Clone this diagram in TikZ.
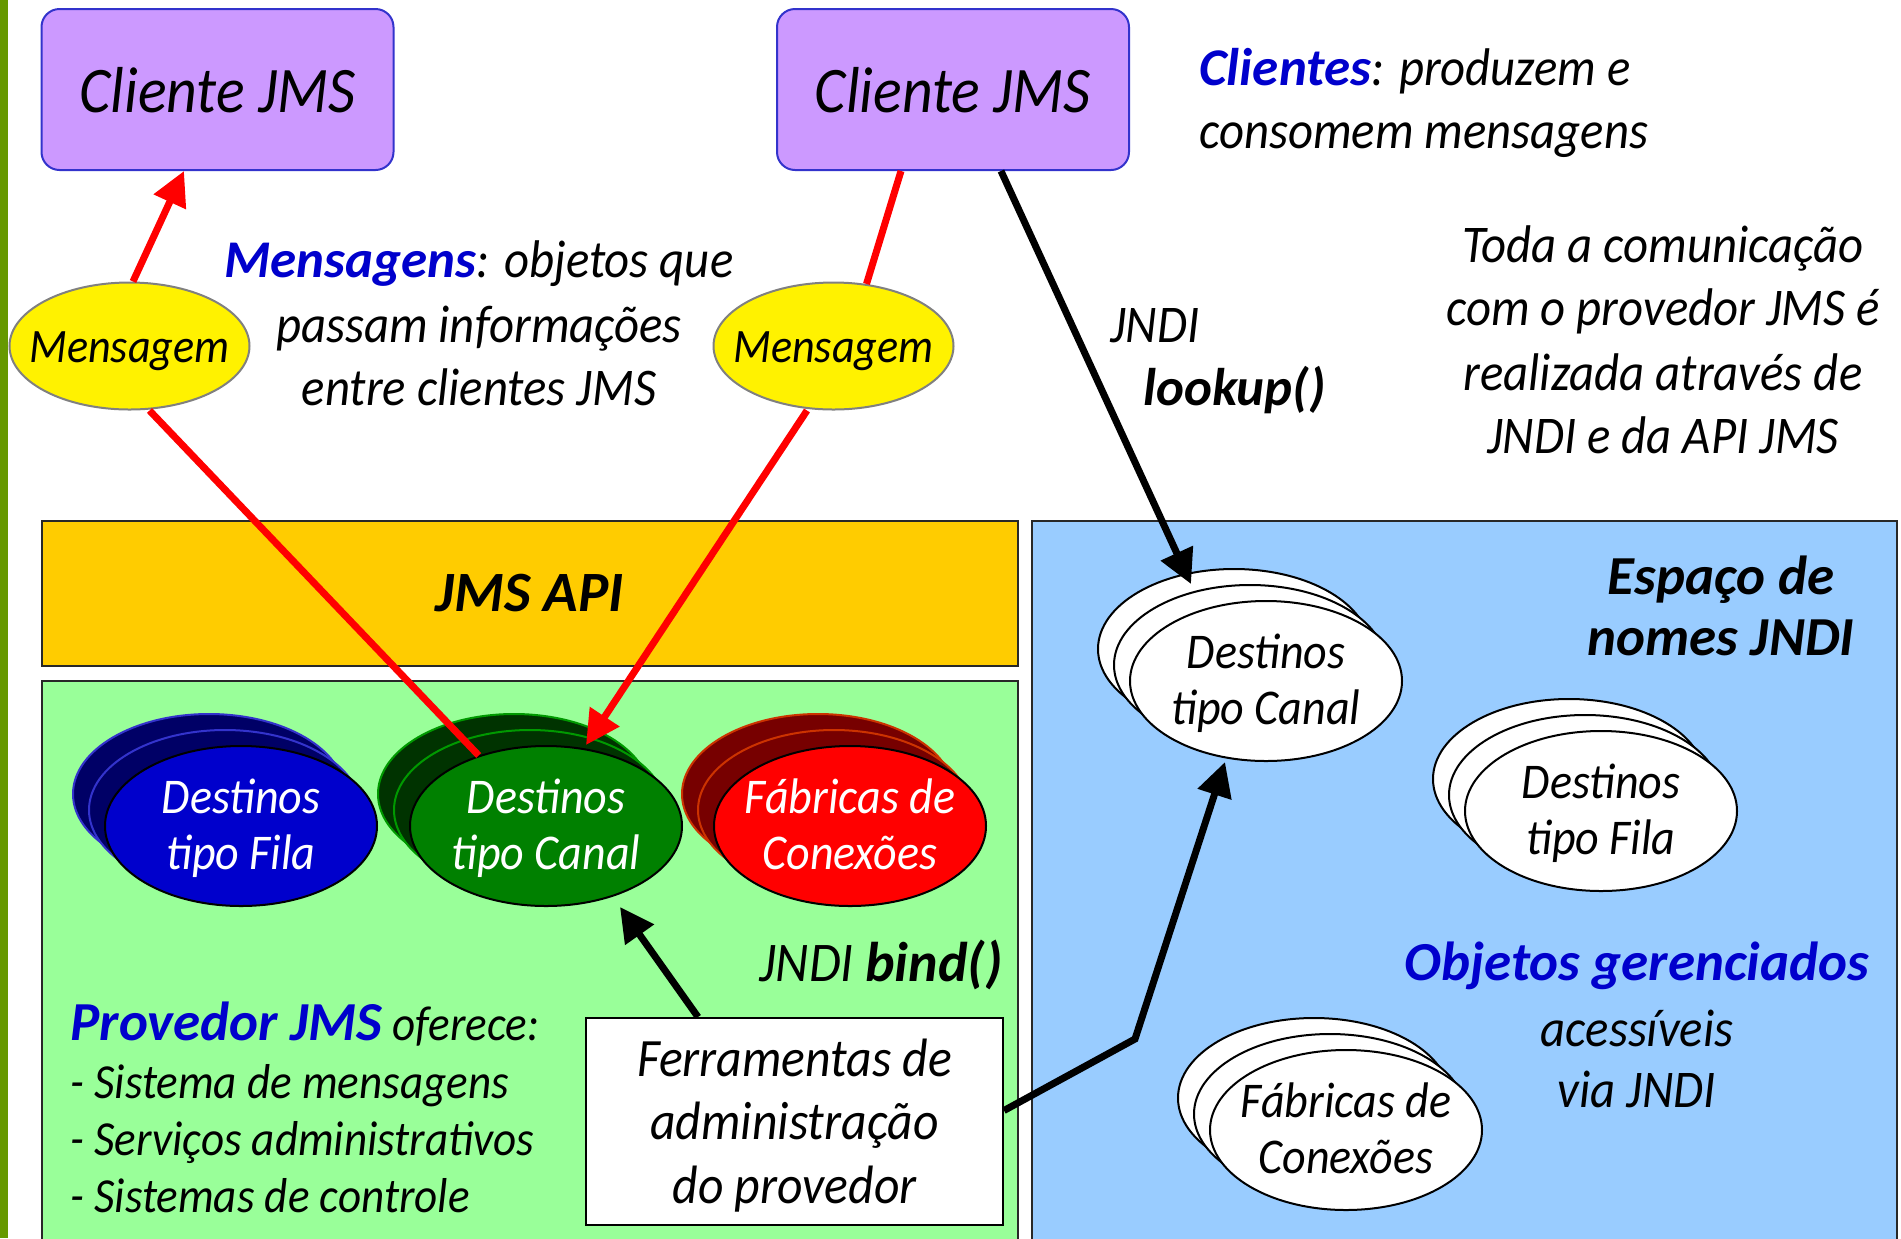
\documentclass[tikz,border=0pt]{standalone}
\usepackage{fontspec}
\setmainfont{Carlito}[ItalicFeatures={FakeStretch=0.92}]
\usetikzlibrary{shapes.geometric,arrows.meta,calc}
\definecolor{barc}{RGB}{102,153,0}
\definecolor{clientfill}{RGB}{204,153,255}
\definecolor{clientdraw}{RGB}{51,51,204}
\definecolor{apifill}{RGB}{255,204,0}
\definecolor{provfill}{RGB}{153,255,153}
\definecolor{jndifill}{RGB}{153,204,255}
\definecolor{areadraw}{RGB}{40,40,40}
\definecolor{txtblue}{RGB}{0,0,204}
\definecolor{msgdraw}{RGB}{128,128,128}
\definecolor{bfront}{RGB}{0,0,204}
\definecolor{bback}{RGB}{0,0,102}
\definecolor{bbackdraw}{RGB}{51,51,204}
\definecolor{gfront}{RGB}{0,128,0}
\definecolor{gback}{RGB}{0,51,0}
\definecolor{gbackdraw}{RGB}{0,153,0}
\definecolor{rfront}{RGB}{255,0,0}
\definecolor{rback}{RGB}{119,0,0}
\definecolor{rbackdraw}{RGB}{204,51,0}
\newcommand\zw[1]{\makebox[0pt]{#1}}
\newcommand\topstrut{\rule{0pt}{20pt}}
\newcommand\botstrut{\rule[-5pt]{0pt}{5pt}}
\newcommand\ellstack[5]{%
  \node[stk,#3] (#1-b2) at ($#2+(-32,-32)$) {};
  \node[stk,#3] (#1-b1) at ($#2+(-16,-16)$) {};
  \node[stk,#4] (#1) at #2 {#5};}
\begin{document}
\begin{tikzpicture}[x=0.5pt,y=-0.5pt,
  every node/.style={font=\itshape},
  client/.style={draw=clientdraw,line width=1pt,fill=clientfill,rounded corners=9pt,
    minimum width=176pt,minimum height=80.5pt,inner sep=0pt,text height=24pt,text depth=1.5pt,
    font=\itshape\fontsize{32.5}{36}\selectfont},
  msg/.style={ellipse,draw=msgdraw,line width=1pt,fill=yellow,minimum width=120pt,
    minimum height=63.5pt,inner sep=0pt,text height=18pt,text depth=2pt,
    font=\itshape\fontsize{24}{28}\selectfont},
  area/.style={draw=areadraw,line width=1pt,inner sep=0pt},
  stk/.style={ellipse,line width=1pt,minimum width=136pt,minimum height=80pt,inner sep=0pt,
    align=center,font=\itshape\fontsize{25}{28}\selectfont},
  bluefront/.style={fill=bfront,draw=black,text=white},
  blueback/.style={fill=bback,draw=bbackdraw},
  greenfront/.style={fill=gfront,draw=black,text=white},
  greenback/.style={fill=gback,draw=gbackdraw},
  redfront/.style={fill=rfront,draw=black,text=white},
  redback/.style={fill=rback,draw=rbackdraw},
  whitefront/.style={fill=white,draw=black},
  whiteback/.style={fill=white,draw=black},
  body/.style={inner sep=0pt,font=\itshape\fontsize{26.5}{30}\selectfont},
  small/.style={inner sep=0pt,font=\itshape\fontsize{24.5}{28}\selectfont},
  boldtxt/.style={inner sep=0pt,font=\itshape\bfseries\fontsize{27.5}{30}\selectfont},
  tool/.style={draw=black,line width=1pt,fill=white,minimum width=208.5pt,minimum height=103.5pt,
    inner sep=0pt,align=center,font=\itshape\fontsize{27}{31.75}\selectfont},
  redline/.style={draw=red,line width=3.5pt},
  blackline/.style={draw=black,line width=3.5pt},
  redtip/.style={-{Triangle[length=17pt,width=17pt]}},
  blacktip/.style={-{Triangle[length=17pt,width=17pt]}}
]
\useasboundingbox (0,0) rectangle (1901,1238);
\clip (0,0) rectangle (1901,1238);
\fill[barc] (0,0) rectangle (8,1238);

% areas
\node[area,fill=apifill,minimum width=488pt,minimum height=72.5pt,
  font=\itshape\bfseries\fontsize{28.5}{32}\selectfont] (api) at (530,593.5) {JMS API};
\node[area,fill=provfill,minimum width=488pt,minimum height=284.5pt] (prov) at (530,965.5) {};
\node[area,fill=jndifill,minimum width=432.5pt,minimum height=364.5pt] (jndi) at (1464.5,885.5) {};

% clients and messages
\node[client] (cliL) at (217.5,89.5) {Cliente JMS};
\node[client] (cliR) at (953,89.5) {Cliente JMS};
\node[msg] (msgL) at (129.5,346) {\zw{Mensagem}};
\node[msg] (msgR) at (833.5,346) {\zw{Mensagem}};

% provider stacks
\ellstack{fila}{(241,826)}{blueback}{bluefront}{\zw{\topstrut Destinos}\\\zw{\botstrut tipo Fila}}
\ellstack{canal}{(546,826)}{greenback}{greenfront}{\zw{\topstrut Destinos}\\\zw{\botstrut tipo Canal}}
\ellstack{fab}{(850,826)}{redback}{redfront}{\zw{\topstrut Fábricas de}\\\zw{\botstrut Conexões}}

% JNDI stacks
\ellstack{wcanal}{(1266,681)}{whiteback}{whitefront}{\zw{\topstrut Destinos}\\\zw{\botstrut tipo Canal}}
\ellstack{wfila}{(1601,811)}{whiteback}{whitefront}{\zw{\topstrut Destinos}\\\zw{\botstrut tipo Fila}}
\ellstack{wfab}{(1346,1130)}{whiteback}{whitefront}{\zw{\topstrut Fábricas de}\\\zw{\botstrut Conexões}}

% tool box
\node[tool] (ferr) at (794.5,1121.5) {\rule{0pt}{23pt}Ferramentas de\\administração\\\rule[-5pt]{0pt}{5pt}do provedor};

% texts
\node[body,anchor=base west] (cl1) at (1199,85) {\textbf{\color{txtblue}Clientes}: produzem e};
\node[body,anchor=base west] (cl2) at (1199,148) {consomem mensagens};
\node[body,anchor=base] (t1) at (1663,262) {Toda a comunicação};
\node[body,anchor=base] (t2) at (1663,325) {com o provedor JMS é};
\node[body,anchor=base] (t3) at (1663,390) {realizada através de};
\node[body,anchor=base] (t4) at (1663,453) {JNDI e da API JMS};
\node[body,anchor=base] (m1) at (479,277) {\textbf{\color{txtblue}Mensagens}: objetos que};
\node[body,anchor=base] (m2) at (479,342) {passam informações};
\node[body,anchor=base] (m3) at (479,405) {entre clientes JMS};
\node[body,anchor=base west] (lk1) at (1110,342) {JNDI};
\node[body,anchor=base west] (lk2) at (1143,405) {\textbf{lookup()}};
\node[boldtxt,anchor=base] (e1) at (1721,594) {Espaço de};
\node[boldtxt,anchor=base] (e2) at (1721,655) {nomes JNDI};
\node[boldtxt,anchor=base,text=txtblue] (o1) at (1637,980) {Objetos gerenciados};
\node[body,anchor=base] (o2) at (1637,1046) {acessíveis};
\node[body,anchor=base] (o3) at (1637,1107) {via JNDI};
\node[small,anchor=base west] (p1) at (70,1040) {{\fontsize{27.5}{30}\selectfont\textbf{\color{txtblue}Provedor JMS}} oferece:};
\node[small,anchor=base west] (p2) at (70,1098) {- Sistema de mensagens};
\node[small,anchor=base west] (p3) at (70,1155) {- Serviços administrativos};
\node[small,anchor=base west] (p4) at (70,1212) {- Sistemas de controle};
\node[body,anchor=base east,font=\itshape\fontsize{28}{30}\selectfont] (bd) at (1003,981) {JNDI \textbf{bind()}};

% connectors
\coordinate (bend) at (1135,1039);
\draw[redline,redtip] ([xshift=1.75pt]msgL.north) -- ([xshift=-16.75pt]cliL.south);
\draw[redline] ([xshift=10pt]msgL.south) -- (canal);
\draw[redline] ([xshift=-26pt]cliR.south) -- (msgR.62);
\draw[redline,redtip] ([xshift=-13.25pt]msgR.south) -- ([xshift=20pt]canal.north);
\draw[blackline,blacktip] ([xshift=24pt]cliR.south) -- ($(wcanal.north)+(-75,-16)$);
\draw[blackline,blacktip] ([xshift=-48.25pt]ferr.north) -- ([xshift=37pt]canal.south);
\draw[blackline,blacktip] ([yshift=5.5pt]ferr.east) -- (bend) -- ([xshift=-20.5pt]wcanal.south);
\end{tikzpicture}
\end{document}
